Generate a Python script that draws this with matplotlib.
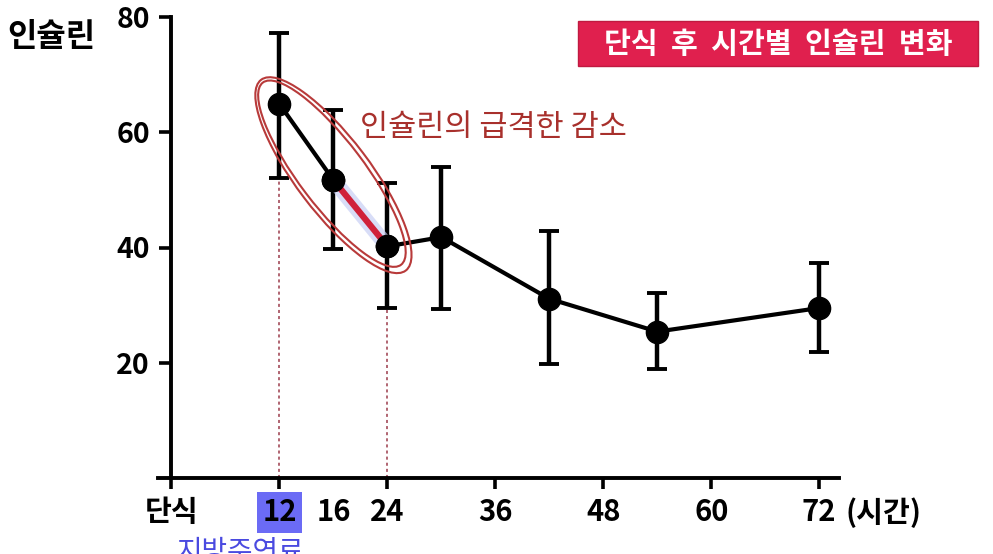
import numpy as np
import matplotlib
matplotlib.use("Agg")
import matplotlib.pyplot as plt
from matplotlib.patches import Ellipse, Rectangle
from matplotlib.transforms import IdentityTransform

plt.rcParams['font.family'] = ['Noto Sans CJK KR', 'DejaVu Sans']

# ---- data ----
hours = [12, 18, 24, 30, 42, 54, 72]
insulin = [64.9, 51.7, 40.2, 41.8, 31.1, 25.4, 29.5]
err_low = [12.9, 12.0, 10.7, 12.5, 11.3, 6.4, 7.7]
err_high = [12.4, 12.2, 11.0, 12.1, 11.8, 6.7, 7.8]
xtick_pos = [0, 12, 24, 36, 48, 60, 72]
xtick_lab = ['단식', '12', '24', '36', '48', '60', '72']
extra_tick_pos = [18]
extra_tick_lab = ['16']
ytick_pos = [20, 40, 60, 80]

W, H = 993, 554
fig = plt.figure(figsize=(W / 100, H / 100), dpi=100)
fig.patch.set_facecolor('white')
ax = fig.add_axes([158 / W, 76 / H, (839 - 158) / W, (537 - 76) / H])
ax.set_xlim(-1.5, 74.2)
ax.set_ylim(0, 80)

for s in ['top', 'right']:
    ax.spines[s].set_visible(False)
ax.spines['left'].set_position(('data', 0))
ax.spines['left'].set_linewidth(2.8)
ax.spines['bottom'].set_linewidth(2.8)

ax.set_yticks(ytick_pos)
ax.set_yticklabels([str(v) for v in ytick_pos], fontsize=20.5, fontweight='bold')
ax.tick_params(axis='y', direction='out', length=8.5, width=2.6, pad=7)

ax.set_xticks(xtick_pos)
ax.set_xticklabels(xtick_lab, fontsize=21, fontweight='bold')
ax.set_xticks(extra_tick_pos, minor=True)
ax.set_xticklabels(extra_tick_lab, minor=True, fontsize=21, fontweight='bold')
ax.tick_params(axis='x', which='major', direction='out', length=8, width=2.6, pad=6)
ax.tick_params(axis='x', which='minor', length=0, pad=14)
ax.get_xticklabels()[1].set_bbox(dict(facecolor='#6b6bf5', edgecolor='none', pad=4))

# dotted guides
for i in (0, 2):
    ax.vlines(hours[i], 0, insulin[i], colors='#9b3a4a', linestyles=(0, (2, 2)), lw=1.1, zorder=1)

# main series
ax.errorbar(hours, insulin, yerr=[err_low, err_high], fmt='-o', color='black',
            lw=3.0, ms=16, elinewidth=3.2, capsize=7.5, capthick=2.8, zorder=3)

# highlight 18-24 segment
ax.plot(hours[1:3], insulin[1:3], color='#c8cff5', lw=11, alpha=0.7, solid_capstyle='round', zorder=3.5)
ax.plot(hours[1:3], insulin[1:3], color='#d0213a', lw=4.5, zorder=3.6)
ax.plot(hours[1:3], insulin[1:3], 'o', color='black', ms=16, zorder=3.7)

# ellipse around rapid decline (display coords)
p1 = ax.transData.transform((hours[0], insulin[0]))
p2 = ax.transData.transform((hours[2], insulin[2]))
c = (p1 + p2) / 2
d = np.hypot(*(p2 - p1))
ang = np.degrees(np.arctan2(p2[1] - p1[1], p2[0] - p1[0]))
for scale, minor, off in [(1.34, 74, 0.0), (1.28, 65, 1.5)]:
    e = Ellipse((c[0] - off, c[1] + off), d * scale, minor, angle=ang, fill=False,
                edgecolor='#b83a3a', lw=1.5, transform=IdentityTransform(), zorder=5)
    fig.add_artist(e)

ax.text(21.0, 60.8, '인슐린의 급격한 감소', color='#a8302c', fontsize=22, va='center', ha='left')

# labels
fig.text(7 / W, 1 - 37 / H, '인슐린', fontsize=23, fontweight='bold', va='center', ha='left')
fig.text(845 / W, 1 - 513 / H, '(시간)', fontsize=21, fontweight='bold', va='center', ha='left')
fig.text(240 / W, 1 - 537 / H, '지방주연료', color='#4a4ae0', fontsize=20, va='top', ha='center')

# title box
fig.add_artist(Rectangle((578 / W, 1 - 66 / H), 400 / W, 45 / H, transform=fig.transFigure,
                         facecolor='#e0204e', edgecolor='#c01a40', lw=1))
fig.text(778 / W, 1 - 44 / H, '단식  후  시간별  인슐린  변화', color='white', fontsize=21,
         fontweight='bold', va='center', ha='center')

fig.savefig('out.png', dpi=100)
